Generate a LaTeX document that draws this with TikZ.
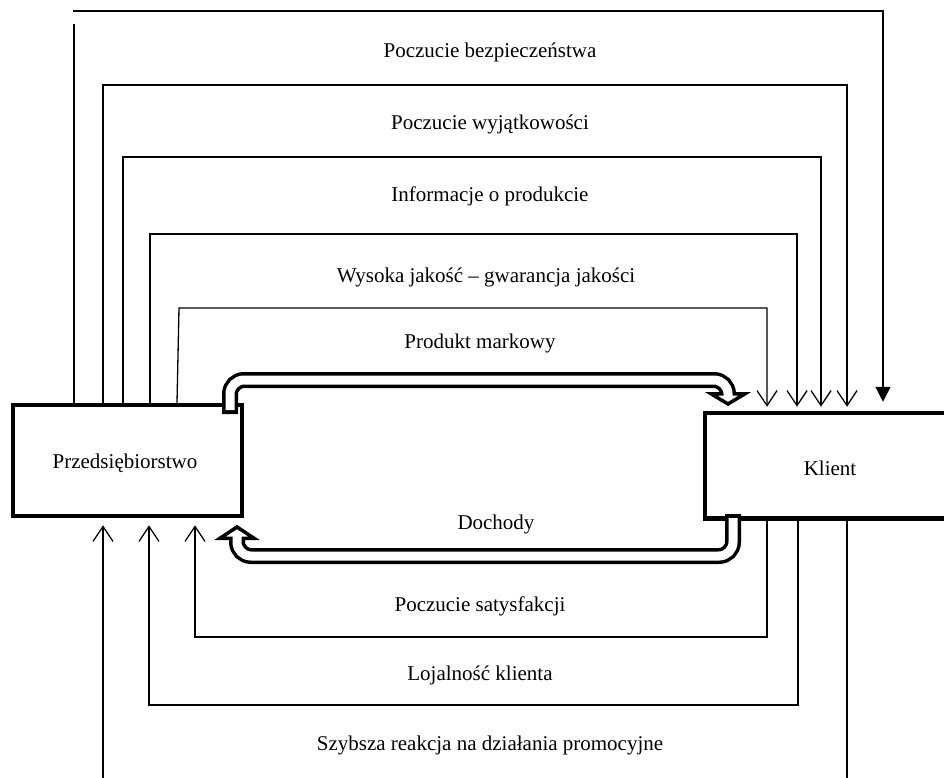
\documentclass[tikz,border=0pt]{standalone}
\usepackage{fontspec}
\setmainfont{Liberation Serif}
\usetikzlibrary{arrows.meta}
\begin{document}
\begin{tikzpicture}[x=1pt,y=-1pt,
  box/.style={draw, line width=4.5pt, inner sep=0pt},
  conn/.style={line width=1.3pt},
  barb/.style={-{Straight Barb[length=15pt,width=20pt]}},
  solidtip/.style={-{Triangle[length=15pt,width=15pt]}},
  lbl/.style={anchor=base, inner sep=0pt, font=\fontsize{21}{25}\selectfont},
  tubeout/.style={line width=16pt, rounded corners=14pt},
  tubein/.style={line width=9pt, white, rounded corners=14pt},
  head/.style={line width=3.5pt, fill=white, line join=miter}]
\clip (0,0) rectangle (944,778);
\fill[white] (0,0) rectangle (944,778);

% boxes
\node[box, minimum width=229pt, minimum height=111pt] (firm) at (127.5,460.5) {};
\node[box, minimum width=250pt, minimum height=105.5pt] (klient) at (830,465.75) {};
\node[lbl] (firmtxt) at (125,468) {Przedsiębiorstwo};
\node[lbl] (klienttxt) at (830,475) {Klient};

% top group
\coordinate (a1) at (74,24);
\coordinate (b1) at (73,11);
\coordinate (c1) at (883,11);
\draw[conn] (firm.north -| a1) -- (a1);
\draw[conn, solidtip, shorten >=9pt] (b1) -- (c1) -- (klient.north -| c1);

\coordinate (l2) at (103,85);  \coordinate (r2) at (847,85);
\coordinate (l3) at (123,157); \coordinate (r3) at (821,157);
\coordinate (l4) at (150,234); \coordinate (r4) at (797,234);
\coordinate (l5) at (179,308); \coordinate (r5) at (767,308);
\coordinate (l5s) at (177,400);
\draw[conn, barb, shorten >=4pt] (firm.north -| l2) -- (l2) -- (r2) -- (klient.north -| r2);
\draw[conn, barb, shorten >=4pt] (firm.north -| l3) -- (l3) -- (r3) -- (klient.north -| r3);
\draw[conn, barb, shorten >=4pt] (firm.north -| l4) -- (l4) -- (r4) -- (klient.north -| r4);
\draw[conn, barb, shorten >=4pt] (firm.north -| l5s) -- (l5) -- (r5) -- (klient.north -| r5);

% bottom group
\coordinate (p1) at (767,637); \coordinate (q1) at (195,637);
\coordinate (p2) at (798,705); \coordinate (q2) at (149,705);
\coordinate (p3) at (847,790); \coordinate (q3) at (103,790);
\draw[conn, barb, shorten >=7pt] (klient.south -| p1) -- (p1) -- (q1) -- (firm.south -| q1);
\draw[conn, barb, shorten >=7pt] (klient.south -| p2) -- (p2) -- (q2) -- (firm.south -| q2);
\draw[conn] (klient.south -| p3) -- (p3);
\draw[conn, barb, shorten >=7pt] (q3) -- (firm.south -| q3);

% top double arrow (product)
\coordinate (ts) at (230,414);
\coordinate (tsw) at (230,410);
\coordinate (tc1) at (230,380);
\coordinate (tc2) at (728,380);
\coordinate (te) at (728,393.75);
\coordinate (tew) at (728,397);
\draw[tubeout] (ts) -- (tc1) -- (tc2) -- (te);
\draw[head] (711,393.75) -- (728,404) -- (745,393.75) -- cycle;
\draw[tubein] (tsw) -- (tc1) -- (tc2) -- (tew);

% bottom double arrow (income)
\coordinate (bs) at (733,514);
\coordinate (bsw) at (733,518);
\coordinate (bc1) at (733,556);
\coordinate (bc2) at (237,556);
\coordinate (be) at (237,538.25);
\coordinate (bew) at (237,535);
\draw[tubeout] (bs) -- (bc1) -- (bc2) -- (be);
\draw[head] (220,538.25) -- (237,527) -- (254,538.25) -- cycle;
\draw[tubein] (bsw) -- (bc1) -- (bc2) -- (bew);

% labels
\node[lbl] (t1) at (490,58) {Poczucie bezpieczeństwa};
\node[lbl] (t2) at (490,130) {Poczucie wyjątkowości};
\node[lbl] (t3) at (490,201) {Informacje o produkcie};
\node[lbl] (t4) at (486,282) {Wysoka jakość – gwarancja jakości};
\node[lbl] (t5) at (480,348) {Produkt markowy};
\node[lbl] (t6) at (496,529) {Dochody};
\node[lbl] (t7) at (480,611) {Poczucie satysfakcji};
\node[lbl] (t8) at (480,680) {Lojalność klienta};
\node[lbl] (t9) at (490,750) {Szybsza reakcja na działania promocyjne};
\end{tikzpicture}
\end{document}
